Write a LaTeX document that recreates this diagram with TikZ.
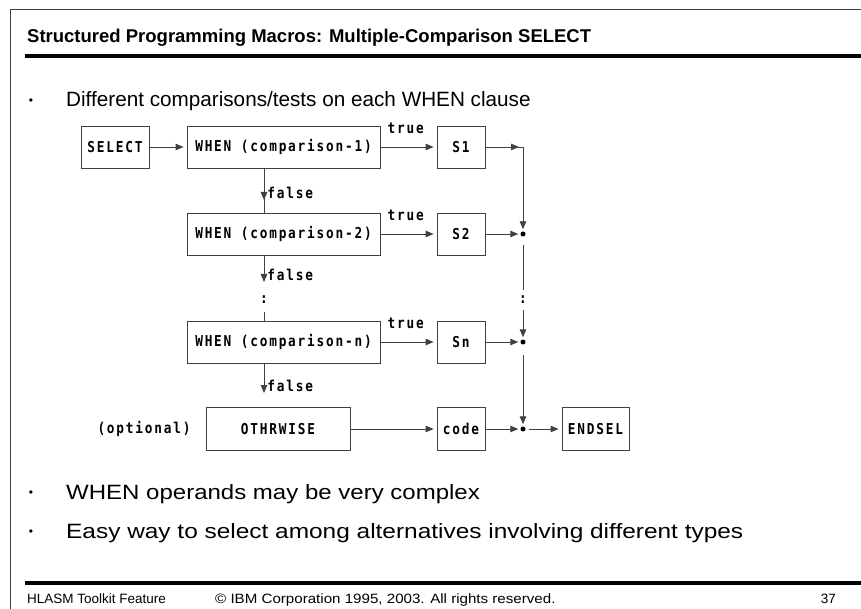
\documentclass[tikz,border=0pt]{standalone}
\usepackage{fontspec}
\setmainfont{Liberation Sans}
\newfontfamily\boxfont{DejaVu Sans Mono Bold}[FakeStretch=0.85, LetterSpace=12]
\usetikzlibrary{arrows.meta,calc}
\newcommand\boxtext{\boxfont\fontsize{15}{17}\selectfont}
\newcommand\titletext{\bfseries\fontsize{18.5}{21}\selectfont}
\newcommand\bullettext{\fontsize{20.7}{24}\selectfont}
\newcommand\foottext{\fontsize{13.5}{15}\selectfont}
\definecolor{linec}{gray}{0.25}
\tikzset{
  stepbox/.style={draw=linec, line width=0.9pt, minimum height=42pt, inner sep=0pt, font=\boxtext},
  lbl/.style={font=\boxtext, inner sep=0pt},
  ln/.style={draw=linec, line width=0.9pt},
  arr/.style={ln, -{Triangle[length=8pt,width=6.5pt]}},
  jdot/.style={circle, fill=black, inner sep=0pt, minimum size=5pt},
  btext/.style={anchor=base west, inner sep=0pt, font=\bullettext},
  bdot/.style={inner sep=0pt, font=\fontsize{12}{12}\selectfont},
  ftext/.style={anchor=base west, inner sep=0pt, font=\foottext},
}
\begin{document}
\begin{tikzpicture}[x=1pt,y=-1pt]
\useasboundingbox (0,0) rectangle (861,609);
% page frame and rules
\draw[line width=1.2pt, black!75] (10.5,609) -- (10.5,9.5) -- (861,9.5);
\draw[line width=4.5pt] (25,56) -- (861,56);
\draw[line width=4.5pt] (25,583) -- (861,583);
% heading
\node[anchor=base west, inner sep=0pt, font=\titletext] (title) at (27,43)
  {Structured Programming Macros: Multiple-Comparison SELECT};
% bullets
\node[bdot] (b1) at (31,102) {•};
\node[btext] (t1) at (66,107) {Different comparisons/tests on each WHEN clause};
\node[bdot] (b2) at (31,494) {•};
\node[btext] (t2) at (66,499) {\scalebox{1.16}[1]{WHEN operands may be very complex}};
\node[bdot] (b3) at (31,533) {•};
\node[btext] (t3) at (66,538) {\scalebox{1.18}[1]{Easy way to select among alternatives involving different types}};
% footer
\node[ftext] (f1) at (27,603) {HLASM Toolkit Feature};
\node[ftext] (f2) at (215,603) {\scalebox{1.12}[1]{© IBM Corporation 1995, 2003. All rights reserved.}};
\node[anchor=base east, inner sep=0pt, font=\foottext] (f3) at (836,603) {37};

% flow chart boxes
\node[stepbox, minimum width=68pt] (sel) at (115,147) {SELECT};
\node[stepbox, minimum width=193pt] (w1) at (283.5,147) {WHEN (comparison-1)};
\node[stepbox, minimum width=193pt] (w2) at (283.5,234) {WHEN (comparison-2)};
\node[stepbox, minimum width=193pt] (wn) at (283.5,342) {WHEN (comparison-n)};
\node[stepbox, minimum width=144pt, minimum height=43pt] (oth) at (278,429) {OTHRWISE};
\node[stepbox, minimum width=48pt] (s1) at (461,147) {S1};
\node[stepbox, minimum width=48pt] (s2) at (461,234) {S2};
\node[stepbox, minimum width=48pt] (sn) at (461,342) {Sn};
\node[stepbox, minimum width=48pt, minimum height=43pt] (code) at (461,429) {code};
\node[stepbox, minimum width=67pt, minimum height=43pt] (endsel) at (595.5,429) {ENDSEL};
\node[lbl] (opt) at (144,429) {(optional)};

% junction points
\coordinate (k1) at (523,147);
\node[jdot] (j2) at (523,234) {};
\node[jdot] (jn) at (523,342) {};
\node[jdot] (jc) at (523,429) {};
\node[lbl] (c1) at (264,300) {:};
\node[lbl] (c2) at (523,300) {:};

% false branch points
\coordinate (fa) at (264,168);
\coordinate (fb) at (264,213);
\coordinate (fc) at (264,255);
\coordinate (fd) at (264,321);
\coordinate (fe) at (264,363);

% connectors
\draw[arr, shorten >=3pt] (sel) -- (w1);
\draw[arr, shorten >=3pt] (w1) -- node[lbl, pos=0.45, above=13pt] {true} (s1);
\draw[arr, shorten >=3pt] (w2) -- node[lbl, pos=0.45, above=13pt] {true} (s2);
\draw[arr, shorten >=3pt] (wn) -- node[lbl, pos=0.45, above=13pt] {true} (sn);
\draw[arr, shorten >=3pt] (oth) -- (code);

\draw[ln] (s1.east) -- (k1) -- ($(j2)+(0,-10)$);
\draw[arr, shorten >=4pt] (s1.east) -- (k1);
\draw[arr, shorten >=2pt] (k1) -- (j2);
\draw[arr, shorten >=2pt] (s2) -- (j2);
\draw[ln, shorten <=8pt, shorten >=6pt] (j2) -- (c2);
\draw[arr, shorten <=6pt, shorten >=2pt] (c2) -- (jn);
\draw[arr, shorten >=2pt] (sn) -- (jn);
\draw[arr, shorten <=10pt, shorten >=2pt] (jn) -- (jc);
\draw[arr, shorten >=2pt] (code) -- (jc);
\draw[arr, shorten <=3pt, shorten >=3pt] (jc) -- (endsel);

\draw[ln] (fa) -- (fb);
\draw[arr] (fa) -- ($(fa)+(0,32)$) node[lbl, anchor=west, xshift=3pt, yshift=7pt] {false};
\draw[arr] (fc) -- ($(fc)+(0,27)$) node[lbl, anchor=west, xshift=3pt, yshift=7pt] {false};
\draw[ln, shorten <=8pt] (c1) -- (fd);
\draw[arr] (fe) -- ($(fe)+(0,30)$) node[lbl, anchor=west, xshift=3pt, yshift=7pt] {false};
\end{tikzpicture}
\end{document}
